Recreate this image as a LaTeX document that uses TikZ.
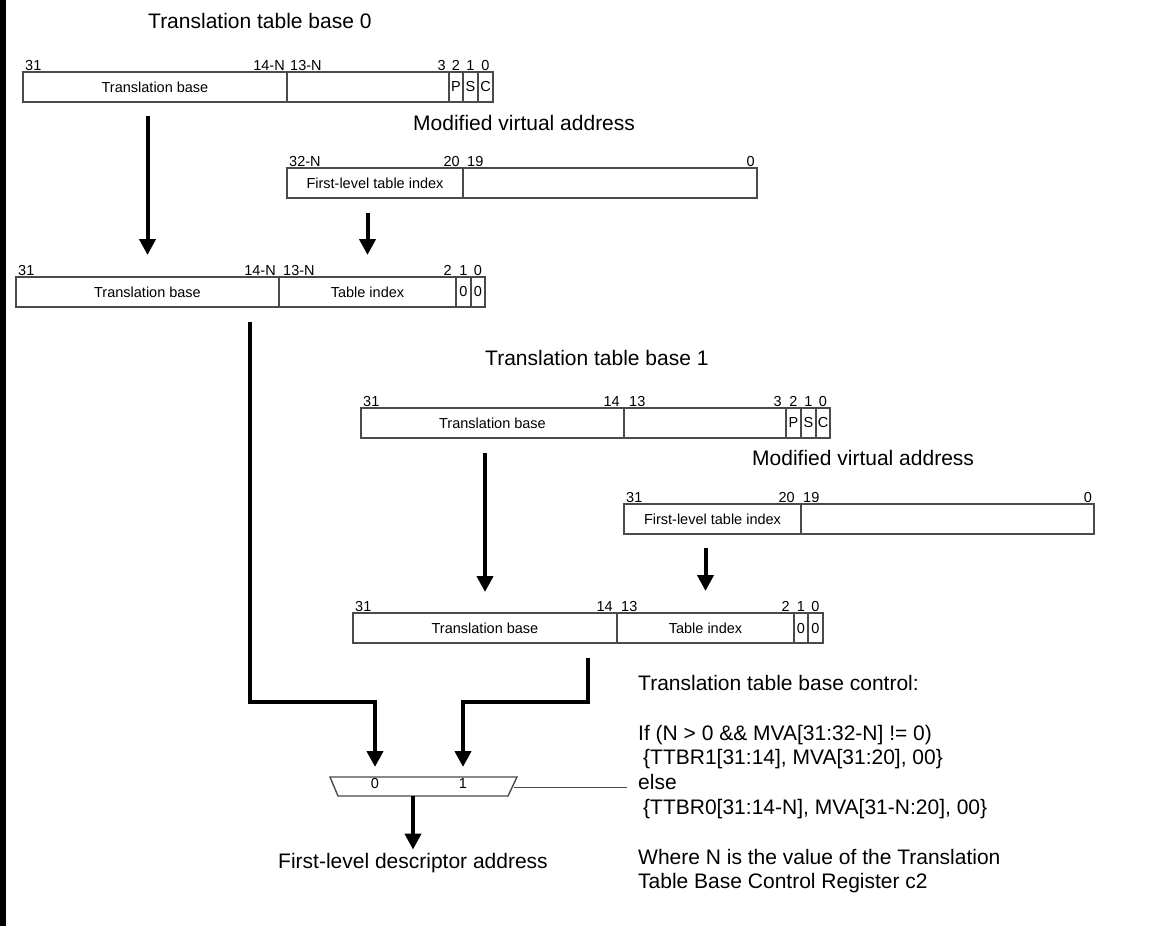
\documentclass[tikz,border=0pt]{standalone}
\usepackage{fontspec}
\setmainfont{Liberation Sans}
\usetikzlibrary{arrows.meta,calc}
\definecolor{boxgray}{HTML}{4A4A4A}
\newcommand\fsmall{\fontsize{14.5}{17}\selectfont}
\newcommand\flarge{\fontsize{21}{24.8}\selectfont}
\begin{document}
\begin{tikzpicture}[x=1pt,y=-1pt,
  field/.style={draw=boxgray,line width=1.4pt,minimum height=30pt,inner sep=0pt,outer sep=0pt,anchor=north west,font=\fsmall},
  bit/.style={inner sep=0pt,font=\fsmall},
  title/.style={inner sep=0pt,anchor=base west,font=\flarge},
  bigarrow/.style={line width=4pt,-{Triangle[width=16pt,length=16pt]}},
  muxline/.style={draw=boxgray,line width=1.4pt},
  ctrl/.style={draw=boxgray,line width=1pt}]
\useasboundingbox (0,0) rectangle (1150,926);
\fill[black] (0,0) rectangle (5.5,926);

% Translation table base 0
\node[title] (tt0) at (148,28.5) {Translation table base 0};
\node[field,minimum width=264pt] (t0tb) at (23,72) {Translation base};
\node[field,minimum width=162pt] (t0mid) at (287,72) {};
\node[field,minimum width=14pt] (t0p) at (449,72) {P};
\node[field,minimum width=15pt] (t0s) at (463,72) {S};
\node[field,minimum width=15pt] (t0c) at (478,72) {C};
\node[bit,anchor=base west] (b0a) at (25,70) {31};
\node[bit,anchor=base east] (b0b) at (285,70) {14-N};
\node[bit,anchor=base west] (b0c) at (290,70) {13-N};
\node[bit,anchor=base east] (b0d) at (446,70) {3};
\node[bit,anchor=base] (b0e) at (456,70) {2};
\node[bit,anchor=base] (b0f) at (470.5,70) {1};
\node[bit,anchor=base] (b0g) at (485.5,70) {0};

% Modified virtual address 0
\node[title] (mt0) at (413,130.5) {Modified virtual address};
\node[field,minimum width=176pt] (m0i) at (287,168) {First-level table index};
\node[field,minimum width=294pt] (m0r) at (463,168) {};
\node[bit,anchor=base west] (bm0a) at (289,166) {32-N};
\node[bit,anchor=base east] (bm0b) at (460,166) {20};
\node[bit,anchor=base west] (bm0c) at (467,166) {19};
\node[bit,anchor=base east] (bm0d) at (755,166) {0};

% Combined 0
\node[field,minimum width=263pt] (c0tb) at (16,277) {Translation base};
\node[field,minimum width=177pt] (c0ti) at (279,277) {Table index};
\node[field,minimum width=15pt] (c0z1) at (456,277) {0};
\node[field,minimum width=14pt] (c0z0) at (471,277) {0};
\node[bit,anchor=base west] (bc0a) at (18,275) {31};
\node[bit,anchor=base east] (bc0b) at (276,275) {14-N};
\node[bit,anchor=base west] (bc0c) at (283,275) {13-N};
\node[bit,anchor=base east] (bc0d) at (452,275) {2};
\node[bit,anchor=base] (bc0e) at (463.5,275) {1};
\node[bit,anchor=base] (bc0f) at (478,275) {0};

% Translation table base 1
\node[title] (tt1) at (485,365.5) {Translation table base 1};
\node[field,minimum width=263pt] (t1tb) at (361,408) {Translation base};
\node[field,minimum width=162pt] (t1mid) at (624,408) {};
\node[field,minimum width=15pt] (t1p) at (786,408) {P};
\node[field,minimum width=15pt] (t1s) at (801,408) {S};
\node[field,minimum width=14pt] (t1c) at (816,408) {C};
\node[bit,anchor=base west] (b1a) at (363,406) {31};
\node[bit,anchor=base east] (b1b) at (620,406) {14};
\node[bit,anchor=base west] (b1c) at (629,406) {13};
\node[bit,anchor=base east] (b1d) at (782,406) {3};
\node[bit,anchor=base] (b1e) at (793.5,406) {2};
\node[bit,anchor=base] (b1f) at (808.5,406) {1};
\node[bit,anchor=base] (b1g) at (823,406) {0};

% Modified virtual address 1
\node[title] (mt1) at (752,465.5) {Modified virtual address};
\node[field,minimum width=177pt] (m1i) at (624,504) {First-level table index};
\node[field,minimum width=293pt] (m1r) at (801,504) {};
\node[bit,anchor=base west] (bm1a) at (626,502) {31};
\node[bit,anchor=base east] (bm1b) at (795,502) {20};
\node[bit,anchor=base west] (bm1c) at (803,502) {19};
\node[bit,anchor=base east] (bm1d) at (1092,502) {0};

% Combined 1
\node[field,minimum width=264pt] (c1tb) at (353,613) {Translation base};
\node[field,minimum width=177pt] (c1ti) at (617,613) {Table index};
\node[field,minimum width=14pt] (c1z1) at (794,613) {0};
\node[field,minimum width=15pt] (c1z0) at (808,613) {0};
\node[bit,anchor=base west] (bc1a) at (355,611) {31};
\node[bit,anchor=base east] (bc1b) at (613,611) {14};
\node[bit,anchor=base west] (bc1c) at (621,611) {13};
\node[bit,anchor=base east] (bc1d) at (790,611) {2};
\node[bit,anchor=base] (bc1e) at (801,611) {1};
\node[bit,anchor=base] (bc1f) at (815.5,611) {0};

% arrows into combined registers
\draw[bigarrow] ([yshift=-14pt]t0tb.south -| c0tb.north) -- ([yshift=22pt]c0tb.north);
\draw[bigarrow] ([yshift=-15pt]m0i.south -| c0ti.north) -- ([yshift=22pt]c0ti.north);
\draw[bigarrow] ([yshift=-15pt]t1tb.south -| c1tb.north) -- ([yshift=21pt]c1tb.north);
\draw[bigarrow] ([yshift=-14pt]m1i.south -| c1ti.north) -- ([yshift=22pt]c1ti.north);

% multiplexer
\node[inner sep=0pt,outer sep=0pt,minimum width=187pt,minimum height=19pt] (mux) at (423.5,786.5) {};
\draw[muxline] (mux.north west) -- (mux.north east) -- ([xshift=-9pt]mux.south east) -- ([xshift=8pt]mux.south west) -- cycle;
\node[bit] (in0) at (375,783) {0};
\node[bit] (in1) at (463,783) {1};

\coordinate (c0out) at (250,322);
\coordinate (c1out) at (588,658);
\coordinate (bend) at (0,702);
\draw[bigarrow] (c0out) |- (bend -| in0) -- ([yshift=10pt]in0 |- mux.north);
\draw[bigarrow] (c1out) |- (bend -| in1) -- ([yshift=10pt]in1 |- mux.north);

\node[title] (fla) at (278,868) {First-level descriptor address};
\draw[bigarrow] (mux.south -| fla.north) -- ([yshift=3pt]fla.north);

% control text
\node[title] (ct1) at (638,690.5) {Translation table base control:};
\node[title] (ct2) at (638,740.1) {If (N > 0 \&\& MVA[31:32-N] != 0)};
\node[title] (ct3) at (643,764.9) {\{TTBR1[31:14], MVA[31:20], 00\}};
\node[title] (else) at (638,789.7) {else};
\node[title] (ct5) at (643,814.5) {\{TTBR0[31:14-N], MVA[31-N:20], 00\}};
\node[title] (ct6) at (638,864.1) {Where N is the value of the Translation};
\node[title] (ct7) at (638,888.9) {Table Base Control Register c2};
\draw[ctrl] ([xshift=-3pt]mux.east |- else.mid) -- ([xshift=-11pt]else.mid west);
\end{tikzpicture}
\end{document}
